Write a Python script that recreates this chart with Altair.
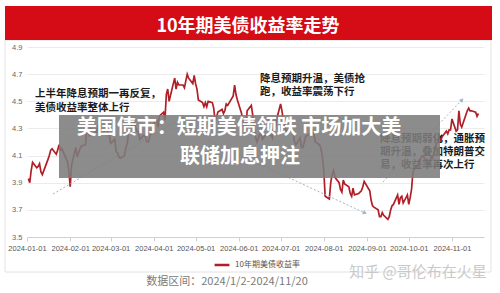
import altair as alt
import pandas as pd

dates = [
    "2024-01-02","2024-01-03","2024-01-04","2024-01-05","2024-01-08","2024-01-09","2024-01-10","2024-01-11","2024-01-12",
    "2024-01-16","2024-01-17","2024-01-18","2024-01-19","2024-01-22","2024-01-23","2024-01-24","2024-01-25","2024-01-26",
    "2024-01-29","2024-01-30","2024-01-31",
    "2024-02-01","2024-02-02","2024-02-05","2024-02-06","2024-02-07","2024-02-08","2024-02-09","2024-02-12","2024-02-13",
    "2024-02-14","2024-02-15","2024-02-16","2024-02-20","2024-02-21","2024-02-22","2024-02-23","2024-02-26","2024-02-27",
    "2024-02-28","2024-02-29",
    "2024-03-01","2024-03-04","2024-03-05","2024-03-06","2024-03-07","2024-03-08","2024-03-11","2024-03-12","2024-03-13",
    "2024-03-14","2024-03-15","2024-03-18","2024-03-19","2024-03-20","2024-03-21","2024-03-22","2024-03-25","2024-03-26",
    "2024-03-27","2024-03-28",
    "2024-04-01","2024-04-02","2024-04-03","2024-04-04","2024-04-05","2024-04-08","2024-04-09","2024-04-10","2024-04-11",
    "2024-04-12","2024-04-15","2024-04-16","2024-04-17","2024-04-18","2024-04-19","2024-04-22","2024-04-23","2024-04-24",
    "2024-04-25","2024-04-26","2024-04-29","2024-04-30",
    "2024-05-01","2024-05-02","2024-05-03","2024-05-06","2024-05-07","2024-05-08","2024-05-09","2024-05-10","2024-05-13",
    "2024-05-14","2024-05-15","2024-05-16","2024-05-17","2024-05-20","2024-05-21","2024-05-22","2024-05-23","2024-05-24",
    "2024-05-28","2024-05-29","2024-05-30","2024-05-31",
    "2024-06-03","2024-06-04","2024-06-05","2024-06-06","2024-06-07","2024-06-10","2024-06-11","2024-06-12","2024-06-13",
    "2024-06-14","2024-06-17","2024-06-18","2024-06-20","2024-06-21","2024-06-24","2024-06-25","2024-06-26","2024-06-27",
    "2024-06-28",
    "2024-07-01","2024-07-02","2024-07-03","2024-07-05","2024-07-08","2024-07-09","2024-07-10","2024-07-11","2024-07-12",
    "2024-07-15","2024-07-16","2024-07-17","2024-07-18","2024-07-19","2024-07-22","2024-07-23","2024-07-24","2024-07-25",
    "2024-07-26","2024-07-29","2024-07-30","2024-07-31",
    "2024-08-01","2024-08-02","2024-08-05","2024-08-06","2024-08-07","2024-08-08","2024-08-09","2024-08-12","2024-08-13",
    "2024-08-14","2024-08-15","2024-08-16","2024-08-19","2024-08-20","2024-08-21","2024-08-22","2024-08-23","2024-08-26",
    "2024-08-27","2024-08-28","2024-08-29","2024-08-30",
    "2024-09-03","2024-09-04","2024-09-05","2024-09-06","2024-09-09","2024-09-10","2024-09-11","2024-09-12","2024-09-13",
    "2024-09-16","2024-09-17","2024-09-18","2024-09-19","2024-09-20","2024-09-23","2024-09-24","2024-09-25","2024-09-26",
    "2024-09-27","2024-09-30",
    "2024-10-01","2024-10-02","2024-10-03","2024-10-04","2024-10-07","2024-10-08","2024-10-09","2024-10-10","2024-10-11",
    "2024-10-15","2024-10-16","2024-10-17","2024-10-18","2024-10-21","2024-10-22","2024-10-23","2024-10-24","2024-10-25",
    "2024-10-28","2024-10-29","2024-10-30","2024-10-31",
    "2024-11-01","2024-11-04","2024-11-05","2024-11-06","2024-11-07","2024-11-08","2024-11-12","2024-11-13","2024-11-14",
    "2024-11-15","2024-11-18","2024-11-19","2024-11-20",
]

yields = [
    3.93, 3.90, 3.99, 4.05, 4.01, 4.02, 4.04, 3.98, 3.96,
    4.07, 4.10, 4.14, 4.15, 4.11, 4.14, 4.18, 4.14, 4.15,
    4.08, 4.06, 3.99,
    3.87, 4.03, 4.16, 4.09, 4.12, 4.15, 4.17, 4.18, 4.31,
    4.27, 4.24, 4.30, 4.27, 4.32, 4.33, 4.26, 4.28, 4.31,
    4.27, 4.25,
    4.19, 4.22, 4.13, 4.12, 4.09, 4.08, 4.10, 4.16, 4.19,
    4.29, 4.31, 4.34, 4.30, 4.28, 4.27, 4.22, 4.25, 4.24,
    4.20, 4.20,
    4.33, 4.36, 4.36, 4.31, 4.39, 4.42, 4.36, 4.55, 4.59,
    4.50, 4.63, 4.67, 4.59, 4.64, 4.62, 4.62, 4.60, 4.65,
    4.70, 4.67, 4.63, 4.69,
    4.63, 4.59, 4.51, 4.49, 4.46, 4.49, 4.46, 4.50, 4.49,
    4.45, 4.36, 4.38, 4.42, 4.44, 4.41, 4.43, 4.48, 4.47,
    4.54, 4.62, 4.55, 4.51,
    4.41, 4.33, 4.29, 4.29, 4.43, 4.47, 4.40, 4.31, 4.24,
    4.20, 4.28, 4.22, 4.25, 4.26, 4.25, 4.23, 4.32, 4.29,
    4.36,
    4.48, 4.43, 4.36, 4.28, 4.28, 4.30, 4.28, 4.20, 4.18,
    4.23, 4.16, 4.16, 4.20, 4.24, 4.26, 4.25, 4.28, 4.25,
    4.20, 4.18, 4.15, 4.09,
    3.99, 3.80, 3.78, 3.90, 3.96, 3.99, 3.94, 3.90, 3.85,
    3.83, 3.92, 3.89, 3.87, 3.82, 3.80, 3.86, 3.81, 3.82,
    3.83, 3.84, 3.87, 3.91,
    3.84, 3.77, 3.73, 3.72, 3.70, 3.65, 3.65, 3.68, 3.66,
    3.63, 3.65, 3.70, 3.73, 3.74, 3.81, 3.74, 3.79, 3.80,
    3.75, 3.81,
    3.74, 3.79, 3.85, 3.98, 4.03, 4.04, 4.06, 4.09, 4.10,
    4.04, 4.03, 4.09, 4.08, 4.19, 4.20, 4.24, 4.21, 4.24,
    4.28, 4.26, 4.29, 4.29,
    4.37, 4.28, 4.29, 4.43, 4.33, 4.31, 4.43, 4.45, 4.43,
    4.43, 4.42, 4.39, 4.41,
]

series_name = "10年期美债收益率"
y_ticks = [3.5, 3.7, 3.9, 4.1, 4.3, 4.5, 4.7, 4.9]
x_tick_months = [1, 2, 3, 4, 5, 6, 7, 8, 9, 10, 11]

chart_title = "10年期美债收益率走势"
overlay_lines = ["美国债市：短期美债领跌 市场加大美", "联储加息押注"]
note1 = "上半年降息预期一再反复，\n美债收益率整体上行"
note2 = "降息预期升温，美债抢\n跑，收益率震荡下行"
note3 = "降息预期弱化，通胀预\n期升温，叠加特朗普交\n易，收益率再次上行"
range_text = "数据区间：2024/1/2-2024/11/20"
watermark = "知乎 @哥伦布在火星"

FONT = "Noto Sans CJK SC"
NUMFONT = "Liberation Sans"

df = pd.DataFrame({"date": dates, "yield": yields, "series": series_name})
one = pd.DataFrame({"k": [0]})

W, H = 457, 190

x_enc = alt.X(
    "date:T",
    scale=alt.Scale(type="utc", domain=[alt.DateTime(year=2024, month=1, date=1, utc=True),
                                        alt.DateTime(year=2024, month=11, date=24, utc=True)]),
    axis=alt.Axis(
        values=[alt.DateTime(year=2024, month=m, date=1, utc=True) for m in x_tick_months],
        format="%Y-%m-%d", title=None, grid=False,
        labelFontSize=7.5, labelColor="#555", labelFont=NUMFONT, labelPadding=3,
        domainColor="#d0d0d0", tickColor="#d0d0d0", tickSize=4,
        labelOverlap=False, labelFlush=False, labelBound=False,
    ),
)
y_enc = alt.Y(
    "yield:Q",
    scale=alt.Scale(domain=[3.5, 4.9], nice=False, zero=False),
    axis=alt.Axis(
        values=y_ticks, format=".1f", title=None, domain=False, ticks=False,
        labelFontSize=7.5, labelColor="#666", labelFont=NUMFONT, labelPadding=5,
        labelFlush=False, gridColor="#ebebeb", gridWidth=1,
    ),
)

line = alt.Chart(df).mark_line(strokeWidth=1.7, clip=True).encode(
    x=x_enc, y=y_enc,
    color=alt.Color("series:N", scale=alt.Scale(domain=[series_name], range=["#b01f28"]),
                    legend=alt.Legend(orient="none", legendX=186, legendY=209, direction="horizontal",
                                      title=None, symbolType="stroke", symbolSize=220, symbolStrokeWidth=2.5,
                                      labelFontSize=8, labelColor="#555", labelFont=FONT, padding=0)),
)

# panel & banner
panel = alt.Chart(one).mark_rect(fillOpacity=0, stroke="#e2e2e2", strokeWidth=1).encode(
    x=alt.value(-22), x2=alt.value(464), y=alt.value(-7), y2=alt.value(225))
banner = alt.Chart(one).mark_rect(fill="#d50b16").encode(
    x=alt.value(-22), x2=alt.value(465), y=alt.value(-41), y2=alt.value(-7))
title_txt = alt.Chart(one).mark_text(fontSize=18, fontWeight="bold", color="white", font=FONT,
                                     align="center", baseline="middle").encode(
    x=alt.value(221), y=alt.value(-20), text=alt.value(chart_title))

# arrows
arrow_color = "#9fb6c9"
def arrow(x1, y1, x2, y2, ang):
    r = alt.Chart(one).mark_rule(strokeDash=[2, 2], color=arrow_color, strokeWidth=1).encode(
        x=alt.value(x1), y=alt.value(y1), x2=alt.value(x2), y2=alt.value(y2))
    h = alt.Chart(one).mark_point(shape="triangle-right", filled=True, color=arrow_color, size=22,
                                  angle=ang, opacity=1).encode(x=alt.value(x2), y=alt.value(y2))
    return r + h

a1 = arrow(26, 147, 155, 71, 330)
a2 = arrow(178, 92, 338, 166, 25)
a3 = arrow(356, 135, 435, 53, 314)

def note(txt, x, y, lh):
    return alt.Chart(one).mark_text(fontSize=10.5, fontWeight="bold", color="#1a1a1a", font=FONT,
                                    align="left", baseline="top", lineBreak="\n", lineHeight=lh).encode(
        x=alt.value(x), y=alt.value(y), text=alt.value(txt))

n1 = note(note1, 8, 42, 14)
n2 = note(note2, 233, 27, 13)
n3 = note(note3, 353, 87, 13)

overlay = alt.Chart(one).mark_rect(fill="#7c7c7c", opacity=0.88).encode(
    x=alt.value(32), x2=alt.value(413), y=alt.value(68), y2=alt.value(131))
ov1 = alt.Chart(one).mark_text(fontSize=20, fontWeight="bold", color="white", font=FONT,
                               align="center", baseline="middle").encode(
    x=alt.value(212), y=alt.value(81), text=alt.value(overlay_lines[0]))
ov2 = alt.Chart(one).mark_text(fontSize=20, fontWeight="bold", color="white", font=FONT,
                               align="center", baseline="middle").encode(
    x=alt.value(213), y=alt.value(110), text=alt.value(overlay_lines[1]))

rng = alt.Chart(one).mark_text(fontSize=11, color="#7a7a7a", font=FONT, align="center", baseline="middle").encode(
    x=alt.value(200), y=alt.value(235), text=alt.value(range_text))
wm = alt.Chart(one).mark_text(fontSize=15, color="#c9c9c9", font=FONT, align="center", baseline="middle").encode(
    x=alt.value(391), y=alt.value(225), text=alt.value(watermark))

chart = alt.layer(
    panel, banner, title_txt, line, a1, a2, a3, n1, n2, n3, overlay, ov1, ov2, rng, wm
).properties(
    width=W, height=H,
    autosize=alt.AutoSizeParams(type="none"),
    padding={"left": 27, "top": 47, "right": 16, "bottom": 56},
    background="white",
).configure_view(stroke=None)

chart.save("out.html", embed_options={"renderer": "svg", "actions": False})
